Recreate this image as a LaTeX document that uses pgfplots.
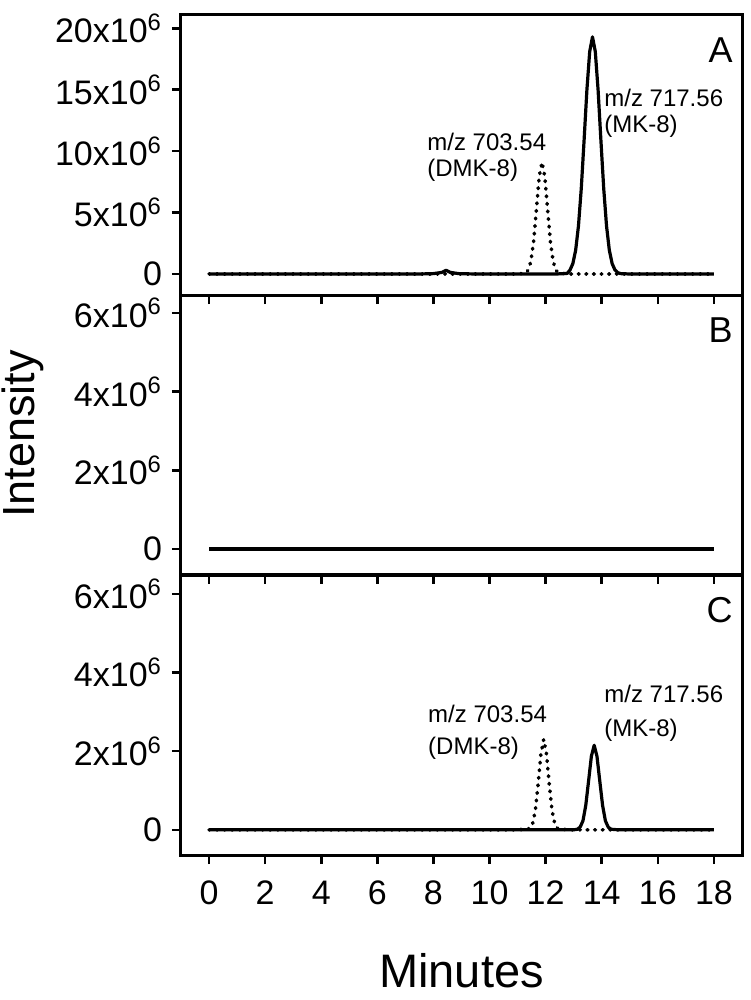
\documentclass[border=0pt]{standalone}
\usepackage{fontspec}
\setmainfont{Liberation Sans}
\usepackage{pgfplots}
\pgfplotsset{compat=1.18}
\tikzset{
  lab/.style={font=\fontsize{12}{13}\selectfont, inner sep=0pt, anchor=base west},
  letter/.style={font=\fontsize{18}{20}\selectfont, inner sep=0pt, anchor=north east, xshift=-4.5pt, yshift=-11pt},
}
\begin{document}
\begin{tikzpicture}
\useasboundingbox (-90.5pt,7.5pt) rectangle (284.5pt,-492.5pt);
\pgfplotsset{
  panel/.style={
    scale only axis, width=280.5pt, height=140pt,
    anchor=north west,
    xmin=-1, xmax=19,
    axis line style={line width=1.5pt},
    xtick={0,2,4,6,8,10,12,14,16,18},
    tick align=outside,
    xtick pos=bottom, ytick pos=left,
    major tick length=4.5pt,
    every tick/.style={line width=1.3pt, black},
    tick label style={font=\fontsize{17}{18}\selectfont},
    yticklabel style={xshift=-1.5pt},
    xticklabel style={yshift=-5pt},
    xticklabels={},
  },
  solidline/.style={black, line width=1.6pt, line join=round},
  dotline/.style={black, line width=1.8pt, line cap=round, line join=round, dash pattern=on 0.4pt off 3.4pt},
}
% ---------- Panel A ----------
\begin{axis}[panel, at={(0pt,0pt)},
  ymin=-1.71, ymax=21.08,
  ytick={0,5,10,15,20},
  yticklabels={0,5x10\textsuperscript{6},10x10\textsuperscript{6},15x10\textsuperscript{6},20x10\textsuperscript{6}}]
\addplot[dotline] coordinates {
(0,0) (2,0) (4,0) (6,0) (8,0) (10,0) (11,0) (11.27,0.06) (11.37,0.29) (11.47,0.99) (11.57,2.62) (11.67,5.23) (11.77,7.92) (11.87,9.1)
(11.97,7.92) (12.07,5.23) (12.17,2.62) (12.27,0.99) (12.37,0.29) (12.47,0.06) (12.8,0) (14,0) (16,0) (18,0)};
\addplot[solidline] coordinates {
(0,0) (2,0) (4,0) (6,0) (7.5,0) (8.0,0.03) (8.3,0.13) (8.45,0.3) (8.6,0.13) (8.9,0.03) (9.5,0) (10.5,0) (11.5,0) (12.4,0)
(12.77,0.05) (12.87,0.33) (12.97,0.85) (13.07,1.94) (13.17,3.92) (13.27,6.96) (13.37,10.87) (13.47,14.96) (13.57,18.1) (13.67,19.3)
(13.77,18.1) (13.87,14.96) (13.97,10.87) (14.07,6.96) (14.17,3.92) (14.27,1.94) (14.37,0.85) (14.47,0.33) (14.57,0.11) (14.67,0.03) (15,0) (16,0) (18,0)};
\node[lab] at (axis cs:7.77,10.09) {m/z 703.54};
\node[lab] at (axis cs:7.77,7.9) {(DMK-8)};
\node[lab] at (axis cs:14.08,13.6) {m/z 717.56};
\node[lab] at (axis cs:14.08,11.48) {(MK-8)};
\node[letter] at (rel axis cs:1,1) {A};
\end{axis}
% ---------- Panel B ----------
\begin{axis}[panel, at={(0pt,-140pt)},
  ymin=-0.66, ymax=6.46,
  ytick={0,2,4,6},
  yticklabels={0,2x10\textsuperscript{6},4x10\textsuperscript{6},6x10\textsuperscript{6}}]
\addplot[solidline] coordinates {(0,0) (4,0) (8,0) (12,0) (16,0) (18,0)};
\node[letter] at (rel axis cs:1,1) {B};
\end{axis}
% ---------- Panel C ----------
\begin{axis}[panel, at={(0pt,-280pt)},
  ymin=-0.64, ymax=6.48,
  ytick={0,2,4,6},
  yticklabels={0,2x10\textsuperscript{6},4x10\textsuperscript{6},6x10\textsuperscript{6}},
  xticklabels={0,2,4,6,8,10,12,14,16,18}]
\addplot[dotline] coordinates {
(0,0) (2,0) (4,0) (6,0) (8,0) (10,0) (11,0) (11.43,0.03) (11.53,0.14) (11.63,0.48) (11.73,1.15) (11.83,1.93) (11.93,2.3)
(12.03,1.93) (12.13,1.15) (12.23,0.48) (12.33,0.14) (12.43,0.03) (12.8,0) (14,0) (16,0) (18,0)};
\addplot[solidline] coordinates {
(0,0) (2,0) (4,0) (6,0) (8,0) (10,0) (12,0) (13.0,0) (13.13,0.015) (13.23,0.07) (13.33,0.23) (13.43,0.62) (13.53,1.24) (13.63,1.87) (13.73,2.15)
(13.83,1.87) (13.93,1.24) (14.03,0.62) (14.13,0.23) (14.23,0.07) (14.33,0.015) (14.6,0) (16,0) (18,0)};
\node[lab] at (axis cs:7.8,2.73) {m/z 703.54};
\node[lab] at (axis cs:7.8,1.91) {(DMK-8)};
\node[lab] at (axis cs:14.08,3.24) {m/z 717.56};
\node[lab] at (axis cs:14.08,2.37) {(MK-8)};
\node[letter] at (rel axis cs:1,1) {C};
\end{axis}
\node[rotate=90, anchor=base, font=\fontsize{22.5}{24}\selectfont] at (-73pt,-209.5pt) {Intensity};
\node[anchor=base, font=\fontsize{23.5}{25}\selectfont] at (140.25pt,-486pt) {Minutes};
\end{tikzpicture}
\end{document}
